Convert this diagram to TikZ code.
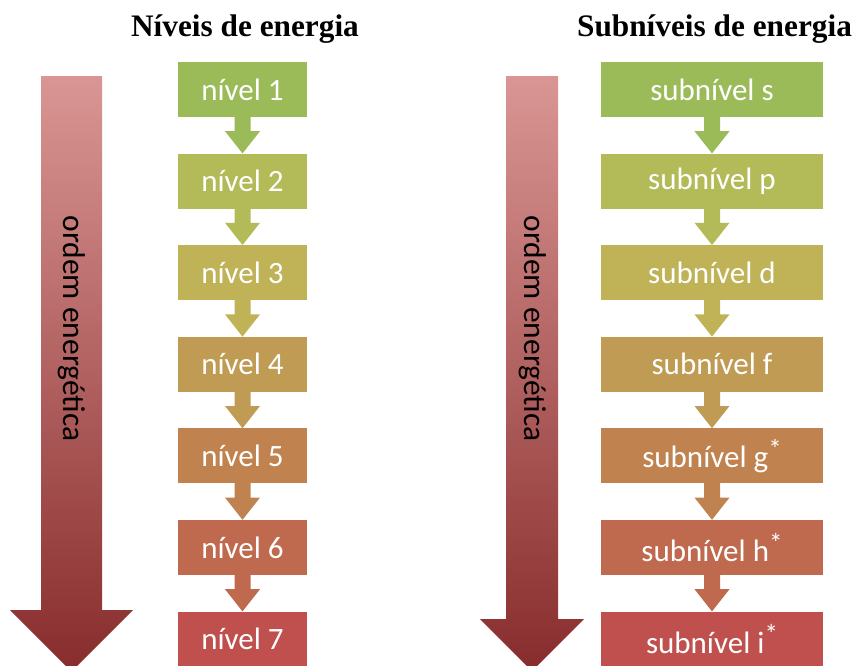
\documentclass[tikz,border=0pt]{standalone}
\usepackage{fontspec}
\setmainfont{Carlito}
\newfontfamily\titlefont{Liberation Serif}
\usetikzlibrary{
  positioning,  % Function "of" (e.g. [below=of x])
  calc,         % Calculations $...$
}
\definecolor{lvA}{RGB}{155,187,89}
\definecolor{lvB}{RGB}{178,187,88}
\definecolor{lvC}{RGB}{191,178,87}
\definecolor{lvD}{RGB}{192,155,83}
\definecolor{lvE}{RGB}{192,131,80}
\definecolor{lvF}{RGB}{191,106,78}
\definecolor{lvG}{RGB}{192,80,77}
\definecolor{bigtop}{RGB}{217,150,148}
\definecolor{bigmid}{RGB}{192,80,77}
\definecolor{bigbot}{RGB}{136,44,44}
% block arrow from the bottom of box #1 to the top of box #2
\newcommand{\conn}[3]{
  \fill[#3] ($(#1.south)+(-8,-1)$) -- ($(#1.south)+(-8,14)$)
    -- ($(#1.south)+(-17.5,14)$) -- (#2.north)
    -- ($(#1.south)+(17.5,14)$) -- ($(#1.south)+(8,14)$)
    -- ($(#1.south)+(8,-1)$) -- cycle;
}
\newcommand{\supstar}{\raisebox{0.3em}{\fontsize{27}{27}\selectfont *}}
\def\myndist{36.2pt}
\tikzset{
  x=1pt, y=-1pt,
  title/.style={
    font=\titlefont\bfseries\fontsize{31.3}{36}\selectfont
  },
  level box/.style={
    rectangle,
    minimum height=55pt,
    inner sep=0pt,
    text=white,
    font=\fontsize{31}{36}\selectfont
  },
  nivel/.style={
    level box,
    minimum width=129pt
  },
  subnivel/.style={
    level box,
    minimum width=222pt
  },
  big arrow/.style={
    top color=bigtop,
    middle color=bigmid,
    bottom color=bigbot
  },
  vlabel/.style={
    rotate=-90,
    inner sep=0pt,
    font=\fontsize{31.5}{36}\selectfont
  }
}
\begin{document}
\begin{tikzpicture}[node distance=\myndist]
\clip (0,0) rectangle (857,665);
\fill[white] (0,0) rectangle (857,665);
% titles
\node[title] (t1) at (245,29) {Níveis de energia};
\node[title] (t2) at (714.5,29) {Subníveis de energia};
% big arrows
\shade[big arrow] (41,76) -- (102,76) -- (102,610) -- (133,610)
  -- (71.5,671.5) -- (10,610) -- (41,610) -- cycle;
\shade[big arrow] (506,76) -- (558,76) -- (558,619) -- (584,619)
  -- (532,671) -- (480,619) -- (506,619) -- cycle;
\node[vlabel] (o1) at (71.5,328.5) {ordem energética};
\node[vlabel] (o2) at (532.5,328.5) {ordem energética};
% levels
\node[nivel,fill=lvA] (n1) at (242.5,89.5) {nível 1};
\node[nivel,fill=lvB] (n2) [below=of n1] {nível 2};
\node[nivel,fill=lvC] (n3) [below=of n2] {nível 3};
\node[nivel,fill=lvD] (n4) [below=of n3] {nível 4};
\node[nivel,fill=lvE] (n5) [below=of n4] {nível 5};
\node[nivel,fill=lvF] (n6) [below=of n5] {nível 6};
\node[nivel,fill=lvG] (n7) [below=of n6] {nível 7};
% sublevels
\node[subnivel,fill=lvA] (s1) at (712,89.5) {subnível s};
\node[subnivel,fill=lvB] (s2) [below=of s1] {subnível p};
\node[subnivel,fill=lvC] (s3) [below=of s2] {subnível d};
\node[subnivel,fill=lvD] (s4) [below=of s3] {subnível f};
\node[subnivel,fill=lvE] (s5) [below=of s4] {subnível g\supstar};
\node[subnivel,fill=lvF] (s6) [below=of s5] {subnível h\supstar};
\node[subnivel,fill=lvG] (s7) [below=of s6] {subnível i\supstar};
% connectors
\conn{n1}{n2}{lvA} \conn{n2}{n3}{lvB} \conn{n3}{n4}{lvC}
\conn{n4}{n5}{lvD} \conn{n5}{n6}{lvE} \conn{n6}{n7}{lvF}
\conn{s1}{s2}{lvA} \conn{s2}{s3}{lvB} \conn{s3}{s4}{lvC}
\conn{s4}{s5}{lvD} \conn{s5}{s6}{lvE} \conn{s6}{s7}{lvF}
\end{tikzpicture}
\end{document}
